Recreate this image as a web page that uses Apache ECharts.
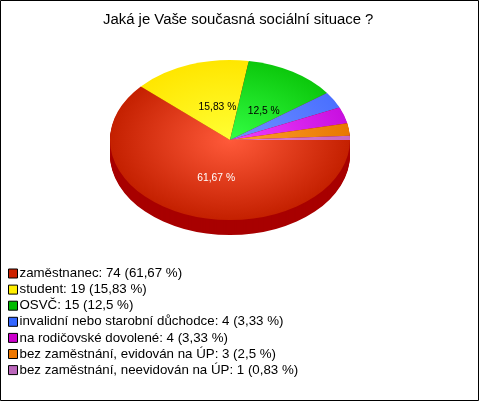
<!DOCTYPE html>
<html><head><meta charset="utf-8">
<style>html,body{margin:0;padding:0;background:#fff}#c{position:absolute;left:0;top:0;width:480px;height:402px}</style>
<script src="https://cdn.jsdelivr.net/npm/echarts@6/dist/echarts.min.js"></script>
</head><body><div id="c"></div>
<script>
const categories = ['zaměstnanec','student','OSVČ','invalidní nebo starobní důchodce','na rodičovské dovolené','bez zaměstnání, evidován na ÚP','bez zaměstnání, neevidován na ÚP'];
const counts = [74,19,15,4,4,3,1];
const percents = ['61,67','15,83','12,5','3,33','3,33','2,5','0,83'];
const baseColors = ['#cc2200','#ffee00','#00bb00','#3366ff','#cc00cc','#ee7700','#bb66bb'];
const edgeColors = ['#c42000','#ffe600','#0cc80c','#4a70ff','#c810e0','#e87800','#c868c0'];
const centerColors = ['#ff5a3a','#ffff33','#33ff44','#7090ff','#f040ff','#ffa030','#e080d8'];
const labelColors = ['#ffffff','#000000','#000000'];

const cx=230, cy=140, rx=120, ry=80, depth=15;
const total = counts.reduce((a,b)=>a+b,0);
function angles(i){
  let s=0; for(let k=0;k<i;k++) s+=counts[k];
  return [s/total*Math.PI*2,(s+counts[i])/total*Math.PI*2];
}
const rows = counts.map((v,i)=>[i,v]);
function sector(i,y,fill){
  const [a,b]=angles(i);
  return {type:'sector',x:cx,y:y,scaleY:ry/rx,
    shape:{cx:0,cy:0,r0:0,r:rx,startAngle:a,endAngle:b,clockwise:true},
    style:{fill:fill}};
}
const chart = echarts.init(document.getElementById('c'),null,{renderer:'canvas'});
chart.setOption({
  animation:false,
  backgroundColor:'#fff',
  title:{text:'Jaká je Vaše současná sociální situace ?',left:98,top:7,
    textStyle:{fontFamily:'Liberation Sans, Arial',fontSize:14.9,fontWeight:'normal',color:'#000'}},
  legend:{orient:'vertical',left:8,top:267,padding:0,itemWidth:9,itemHeight:9,itemGap:3.1,
    icon:'rect',selectedMode:false,
    data:categories,
    itemStyle:{borderColor:'#000',borderWidth:1,borderJoin:'miter'},
    textStyle:{fontFamily:'Liberation Sans, Arial',fontSize:13.3,color:'#000',padding:[0,0,0,-3],lineHeight:12},
    formatter:n=>{const i=categories.indexOf(n);return n+': '+counts[i]+' ('+percents[i]+' %)';}},
  graphic:[{type:'rect',silent:true,z:-1,shape:{x:0.5,y:0.5,width:478,height:400},style:{fill:'#fff',stroke:'#000',lineWidth:1}}],
  series:[
    {type:'pie',radius:[0,0],center:[cx,cy],silent:true,label:{show:false},labelLine:{show:false},
      data:categories.map((n,i)=>({name:n,value:counts[i],itemStyle:{color:baseColors[i]}}))},
    {type:'custom',coordinateSystem:'none',data:rows,z:2,silent:true,
      renderItem:(p,api)=>{
        const i=api.value(0); const kids=[];
        for(let d=depth;d>=1;d--) kids.push(sector(i,cy+d,'#a80000'));
        return {type:'group',children:kids};
      }},
    {type:'custom',coordinateSystem:'none',data:rows,z:3,silent:true,
      renderItem:(p,api)=>{
        const i=api.value(0);
        return sector(i,cy,new echarts.graphic.RadialGradient(0,0,rx,[{offset:0,color:centerColors[i]},{offset:1,color:edgeColors[i]}],true));
      }},
    {type:'custom',coordinateSystem:'none',data:rows,z:4,silent:true,
      renderItem:(p,api)=>{
        const i=api.value(0);
        if(api.value(1)/total<0.05) return null;
        const [a,b]=angles(i); const m=(a+b)/2;
        return {type:'text',x:cx+5.5+0.45*rx*Math.cos(m),y:cy+3+0.47*ry*Math.sin(m),
          style:{text:percents[i]+' %',fill:labelColors[i],font:'10.3px "Liberation Sans", Arial',align:'center',verticalAlign:'middle'}};
      }}
  ]
});
</script></body></html>
